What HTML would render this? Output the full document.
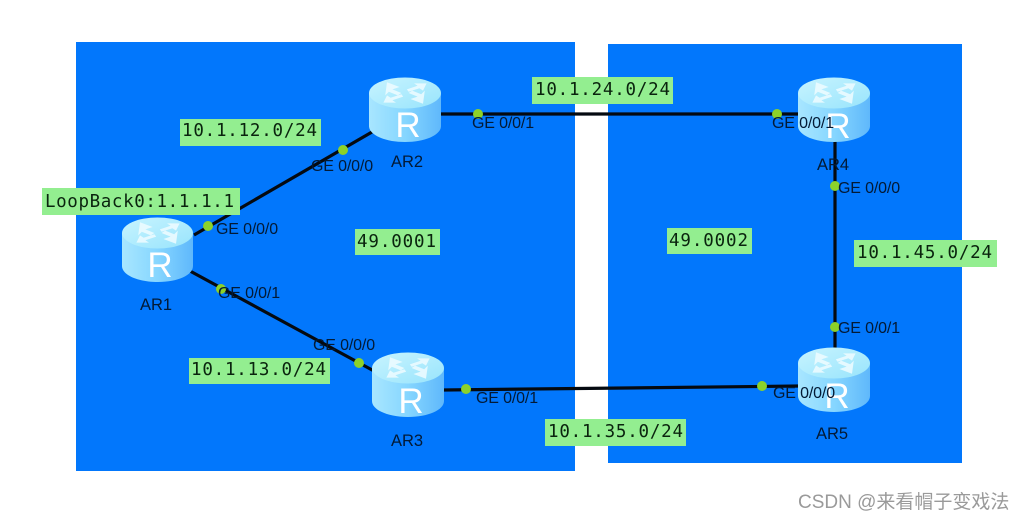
<!DOCTYPE html>
<html><head><meta charset="utf-8"><style>
html,body{margin:0;padding:0;background:#fff}
svg{display:block}
.p{font:16px "Liberation Sans",sans-serif;fill:#031a35;letter-spacing:-.15px}
.n{font:16.500px "Liberation Sans",sans-serif;fill:#031a35;text-anchor:middle}
.l{font:17.500px "DejaVu Sans Mono","Liberation Mono",monospace;fill:#0a240e}
.r{font:35px "Liberation Sans",sans-serif;fill:#fff;text-anchor:middle}
</style></head><body>
<svg width="1024" height="520" viewBox="0 0 1024 520" xmlns="http://www.w3.org/2000/svg">
<defs>
<linearGradient id="s" x1="0" x2="1" y1="0" y2="0"><stop offset="0" stop-color="#a8e6ff"/><stop offset=".5" stop-color="#86d6ff"/><stop offset="1" stop-color="#5fb8fb"/></linearGradient>
<linearGradient id="t" x1="0" x2="1" y1="0" y2="1"><stop offset="0" stop-color="#c8f4ff"/><stop offset="1" stop-color="#98e4fc"/></linearGradient>
</defs>
<rect x="76" y="42" width="499" height="429" fill="#0277fc"/>
<rect x="608" y="44" width="354" height="419" fill="#0277fc"/>
<g stroke="#050a10" stroke-width="3.200" fill="none">
<path d="M194 235L372 132"/>
<path d="M190 271L374 371"/>
<path d="M440 114L800 114"/>
<path d="M444 390L800 386"/>
<path d="M835 140L835 350"/>
</g>
<g>
<g transform="translate(122,217)"><path d="M0 16V49C0 58 16 65 36 65S71 58 71 49V16Z" fill="url(#s)"/><ellipse cx="35.500" cy="16" rx="35.500" ry="15.500" fill="url(#t)"/><path transform="translate(36,16) scale(1.8,1.2) translate(-35,-16)" d="M25 7l7 4-4 2 5 3-2 2-5-3-2 3zM47 8l-2 6-2-2-6 3-1-2 6-3-2-2zM23 24l2-6 2 2 6-3 1 2-6 3 2 2zM45 25l-7-4 4-2-5-3 2-2 5 3 2-3z" fill="#eefcff" opacity=".85"/><text class="r" x="38" y="60">R</text></g>
<g transform="translate(369,77)"><path d="M0 16V49C0 58 16 65 36 65S72 58 72 49V16Z" fill="url(#s)"/><ellipse cx="36" cy="16" rx="36" ry="15.500" fill="url(#t)"/><path transform="translate(36,16) scale(1.8,1.2) translate(-35,-16)" d="M25 7l7 4-4 2 5 3-2 2-5-3-2 3zM47 8l-2 6-2-2-6 3-1-2 6-3-2-2zM23 24l2-6 2 2 6-3 1 2-6 3 2 2zM45 25l-7-4 4-2-5-3 2-2 5 3 2-3z" fill="#eefcff" opacity=".85"/><text class="r" x="39" y="60">R</text></g>
<g transform="translate(372,352)"><path d="M0 16V49C0 58 16 65 36 65S72 58 72 49V16Z" fill="url(#s)"/><ellipse cx="36" cy="16" rx="36" ry="15.500" fill="url(#t)"/><path transform="translate(36,16) scale(1.8,1.2) translate(-35,-16)" d="M25 7l7 4-4 2 5 3-2 2-5-3-2 3zM47 8l-2 6-2-2-6 3-1-2 6-3-2-2zM23 24l2-6 2 2 6-3 1 2-6 3 2 2zM45 25l-7-4 4-2-5-3 2-2 5 3 2-3z" fill="#eefcff" opacity=".85"/><text class="r" x="39" y="61">R</text></g>
<g transform="translate(798,77)"><path d="M0 16V49C0 58 16 65 36 65S72 58 72 49V16Z" fill="url(#s)"/><ellipse cx="36" cy="16" rx="36" ry="15.500" fill="url(#t)"/><path transform="translate(36,16) scale(1.8,1.2) translate(-35,-16)" d="M25 7l7 4-4 2 5 3-2 2-5-3-2 3zM47 8l-2 6-2-2-6 3-1-2 6-3-2-2zM23 24l2-6 2 2 6-3 1 2-6 3 2 2zM45 25l-7-4 4-2-5-3 2-2 5 3 2-3z" fill="#eefcff" opacity=".85"/><text class="r" x="40" y="61">R</text></g>
<g transform="translate(798,347)"><path d="M0 16V49C0 58 16 65 36 65S72 58 72 49V16Z" fill="url(#s)"/><ellipse cx="36" cy="16" rx="36" ry="15.500" fill="url(#t)"/><path transform="translate(36,16) scale(1.8,1.2) translate(-35,-16)" d="M25 7l7 4-4 2 5 3-2 2-5-3-2 3zM47 8l-2 6-2-2-6 3-1-2 6-3-2-2zM23 24l2-6 2 2 6-3 1 2-6 3 2 2zM45 25l-7-4 4-2-5-3 2-2 5 3 2-3z" fill="#eefcff" opacity=".85"/><text class="r" x="39" y="61">R</text></g>
</g>
<g fill="#8cd22a">
<circle cx="208" cy="226" r="5"/><circle cx="221" cy="289" r="5"/><circle cx="343" cy="150" r="5"/><circle cx="359" cy="363" r="5"/>
<circle cx="478" cy="114" r="5"/><circle cx="466" cy="389" r="5"/><circle cx="777" cy="114" r="5"/><circle cx="762" cy="386" r="5"/>
<circle cx="835" cy="186" r="5"/><circle cx="835" cy="327" r="5"/>
</g>
<g fill="#93ee90">
<rect x="180" y="119" width="141" height="27"/>
<rect x="42" y="188" width="198" height="27"/>
<rect x="189" y="358" width="141" height="26"/>
<rect x="532" y="77" width="141" height="27"/>
<rect x="545" y="419" width="141" height="27"/>
<rect x="854" y="240" width="143" height="27"/>
<rect x="355" y="229" width="85" height="26"/>
<rect x="667" y="228" width="85" height="26"/>
</g>
<g>
<text class="l" x="182" y="136" textLength="135">10.1.12.0/24</text>
<text class="l" x="45" y="207" textLength="189">LoopBack0:1.1.1.1</text>
<text class="l" x="191" y="375" textLength="135">10.1.13.0/24</text>
<text class="l" x="535" y="95" textLength="135">10.1.24.0/24</text>
<text class="l" x="548" y="437" textLength="135">10.1.35.0/24</text>
<text class="l" x="857" y="258" textLength="135">10.1.45.0/24</text>
<text class="l" x="357" y="247" textLength="79">49.0001</text>
<text class="l" x="669" y="246" textLength="79">49.0002</text>
</g>
<text class="p" x="216" y="234">GE 0/0/0</text>
<text class="p" x="218" y="298">GE 0/0/1</text>
<text class="p" x="311" y="171">GE 0/0/0</text>
<text class="p" x="313" y="350">GE 0/0/0</text>
<text class="p" x="472" y="128">GE 0/0/1</text>
<text class="p" x="476" y="403">GE 0/0/1</text>
<text class="p" x="772" y="128">GE 0/0/1</text>
<text class="p" x="773" y="398">GE 0/0/0</text>
<text class="p" x="838" y="193">GE 0/0/0</text>
<text class="p" x="838" y="333">GE 0/0/1</text>
<text class="n" x="156" y="310">AR1</text>
<text class="n" x="407" y="167">AR2</text>
<text class="n" x="407" y="446">AR3</text>
<text class="n" x="833" y="170">AR4</text>
<text class="n" x="832" y="439">AR5</text>
<text x="798" y="508" style="font:19px 'Liberation Sans','Noto Sans CJK SC',sans-serif;fill:#9a9a9a">CSDN @来看帽子变戏法</text>
</svg>
</body></html>
